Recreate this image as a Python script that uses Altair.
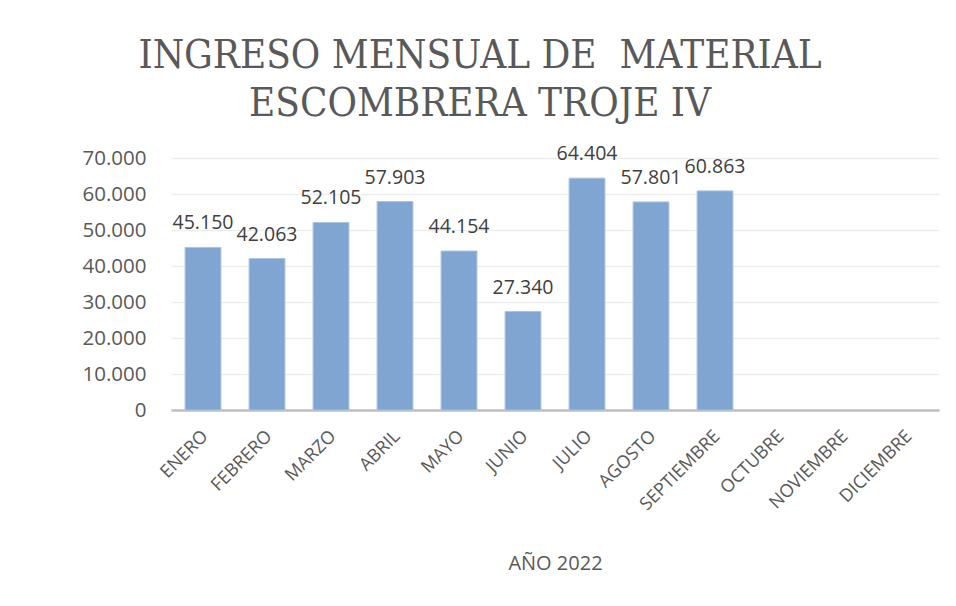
import altair as alt
import pandas as pd

months = ["ENERO", "FEBRERO", "MARZO", "ABRIL", "MAYO", "JUNIO", "JULIO",
          "AGOSTO", "SEPTIEMBRE", "OCTUBRE", "NOVIEMBRE", "DICIEMBRE"]
values = [45150, 42063, 52105, 57903, 44154, 27340, 64404, 57801, 60863,
          None, None, None]
y_ticks = [0, 10000, 20000, 30000, 40000, 50000, 60000, 70000]

df = pd.DataFrame({"mes": months, "valor": values})

sans = "Open Sans"
grey = "#595959"

x = alt.X("mes:N", sort=months, scale=alt.Scale(domain=months, paddingInner=0.44, paddingOuter=0.22),
          axis=alt.Axis(title="AÑO 2022", labelAngle=-45, labelFontSize=18, labelColor=grey,
                        labelFont=sans, labelPadding=17, labelOffset=-4, ticks=False,
                        domainColor="#BFBFBF", domainWidth=2.5, titleFont=sans, titleFontSize=20,
                        titleColor=grey, titleFontWeight="normal", titlePadding=40,
                        labelOverlap=False))
y = alt.Y("valor:Q", scale=alt.Scale(domain=[0, 70000]),
          axis=alt.Axis(title=None, values=y_ticks, tickCount=8, labelFontSize=20.5,
                        labelColor=grey, labelFont=sans, labelPadding=25, ticks=False,
                        domain=False, gridColor="#EDEDED", gridWidth=1.3, labelOverlap=False,
                        labelExpr="replace(format(datum.value, ','), ',', '.')"))

base = alt.Chart(df).transform_filter("isValid(datum.valor)")

bars = base.mark_bar(color="#7FA5D0", stroke="#A9C3E2", strokeWidth=1).encode(x=x, y=y)

text = base.transform_calculate(
    lab="replace(format(datum.valor, ','), ',', '.')"
).mark_text(baseline="bottom", dy=-14, fontSize=19.5, font=sans, color="#404040").encode(
    x=alt.X("mes:N", sort=months), y="valor:Q", text="lab:N")

chart = alt.layer(bars, text).properties(
    width=768, height=252,
    title=alt.Title(["INGRESO MENSUAL DE\u00a0 MATERIAL", "ESCOMBRERA TROJE IV"],
                    font="DejaVu Serif Condensed", fontSize=40, fontWeight="normal",
                    color=grey, lineHeight=48, offset=20, dx=-75, anchor="middle"),
    autosize=alt.AutoSizeParams(type="none"),
    padding={"left": 163, "top": 150, "right": 9, "bottom": 180},
).configure(background="white").configure_view(stroke=None, strokeWidth=0)

chart.save("out.html", embed_options={"renderer": "svg", "actions": False})
